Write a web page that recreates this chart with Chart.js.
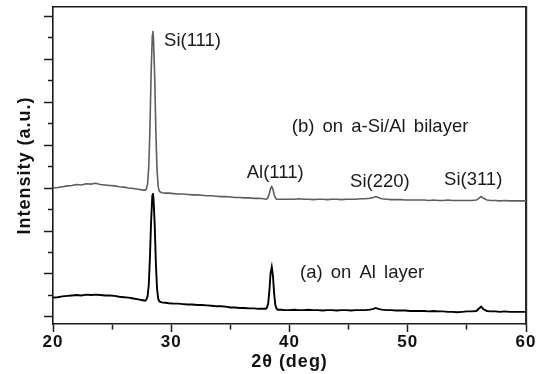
<!DOCTYPE html>
<html>
<head>
<meta charset="utf-8">
<script src="https://cdn.jsdelivr.net/npm/chart.js@4.4.1/dist/chart.umd.min.js"></script>
<style>
  html, body { margin: 0; padding: 0; background: #ffffff; }
  #wrap { width: 539px; height: 374px; }
</style>
</head>
<body>
<div id="wrap"><canvas id="c" width="539" height="374"></canvas></div>
<script>
// 2θ positions (deg)
const twoTheta = [
  20.0, 20.4, 20.8, 21.2, 21.6, 22.0, 22.4, 22.8, 23.2, 23.6, 24.0, 24.4, 24.8, 25.2, 25.6, 26.0, 26.4, 26.8, 27.2, 27.6,
  27.8, 27.9, 28.0, 28.1, 28.2, 28.3, 28.4, 28.45, 28.5, 28.6, 28.7, 28.8, 28.9, 29.0, 29.2, 29.5,
  29.8, 30.2, 30.6, 31.0, 31.4, 31.8, 32.2, 32.6, 33.0, 33.4, 33.8, 34.2, 34.6, 35.0, 35.4, 35.8, 36.2, 36.6, 37.0, 37.4, 37.8,
  38.0, 38.1, 38.2, 38.3, 38.4, 38.5, 38.6, 38.7, 38.8, 38.9, 39.0, 39.3, 39.6,
  40.0, 40.4, 40.8, 41.2, 41.6, 42.0, 42.4, 42.8, 43.2, 43.6, 44.0, 44.4, 44.8, 45.2, 45.6, 46.0, 46.4, 46.8,
  47.1, 47.3, 47.5,
  47.8, 48.2, 48.6, 49.0, 49.4, 49.8, 50.2, 50.6, 51.0, 51.4, 51.8, 52.2, 52.6, 53.0, 53.4, 53.8, 54.2, 54.6, 55.0, 55.4, 55.8,
  56.0, 56.2, 56.4, 56.7,
  57.0, 57.4, 57.8, 58.2, 58.6, 59.0, 59.4, 59.8,
  60.0
];
// (a) on Al layer (a.u.)
const intensityA = [
  0.45, 0.46, 0.48, 0.49, 0.50, 0.51, 0.50, 0.52, 0.51, 0.52, 0.51, 0.50, 0.50, 0.49, 0.47, 0.46, 0.45, 0.43, 0.41, 0.39,
  0.38, 0.41, 0.48, 0.75, 1.40, 2.25, 2.82, 2.88, 2.75, 2.15, 1.25, 0.65, 0.42, 0.36, 0.34, 0.33,
  0.32, 0.31, 0.31, 0.30, 0.29, 0.29, 0.28, 0.28, 0.27, 0.26, 0.25, 0.25, 0.24, 0.22, 0.22, 0.21, 0.21, 0.20, 0.20, 0.19, 0.19,
  0.19, 0.22, 0.32, 0.62, 1.02, 1.16, 0.96, 0.55, 0.28, 0.20, 0.17, 0.17, 0.16,
  0.16, 0.17, 0.16, 0.16, 0.17, 0.16, 0.16, 0.15, 0.16, 0.16, 0.15, 0.16, 0.16, 0.15, 0.16, 0.16, 0.16, 0.17,
  0.19, 0.21, 0.19,
  0.17, 0.16, 0.16, 0.15, 0.15, 0.15, 0.14, 0.14, 0.14, 0.14, 0.13, 0.14, 0.13, 0.13, 0.12, 0.12, 0.11, 0.12, 0.13, 0.13, 0.14,
  0.19, 0.24, 0.18, 0.14,
  0.13, 0.13, 0.12, 0.13, 0.12, 0.12, 0.12, 0.12,
  0.12
];
// (b) on a-Si/Al bilayer (a.u.)
const intensityB = [
  3.00, 3.01, 3.03, 3.05, 3.06, 3.08, 3.07, 3.10, 3.09, 3.11, 3.08, 3.07, 3.06, 3.05, 3.03, 3.02, 3.00, 2.99, 2.97, 2.95,
  2.95, 2.98, 3.10, 3.50, 4.40, 5.70, 6.55, 6.65, 6.45, 5.60, 4.30, 3.40, 3.02, 2.92, 2.89, 2.88,
  2.88, 2.87, 2.86, 2.86, 2.85, 2.84, 2.84, 2.83, 2.82, 2.82, 2.81, 2.80, 2.80, 2.79, 2.78, 2.78, 2.77, 2.77, 2.76, 2.76, 2.75,
  2.74, 2.75, 2.79, 2.88, 2.99, 3.03, 2.97, 2.85, 2.77, 2.74, 2.74, 2.74, 2.74,
  2.74, 2.74, 2.75, 2.74, 2.74, 2.73, 2.74, 2.74, 2.73, 2.74, 2.74, 2.73, 2.74, 2.74, 2.74, 2.75, 2.75, 2.76,
  2.78, 2.80, 2.78,
  2.75, 2.74, 2.73, 2.73, 2.73, 2.72, 2.72, 2.72, 2.72, 2.72, 2.71, 2.72, 2.71, 2.71, 2.72, 2.71, 2.71, 2.71, 2.71, 2.71, 2.72,
  2.76, 2.80, 2.76, 2.72,
  2.71, 2.71, 2.70, 2.71, 2.70, 2.70, 2.70, 2.70,
  2.70
];
// axis tick labels
const xTickLabels = [20, 30, 40, 50, 60];
// peak labels and their anchor (data coordinates)
const annotationTexts = ['Si(111)', '(b) on a-Si/Al bilayer', 'Al(111)', 'Si(220)', 'Si(311)', '(a) on Al layer'];
const annotationX = [29.39, 40.19, 36.38, 45.12, 53.07, 40.89];
const annotationY = [6.42, 4.43, 3.35, 3.15, 3.19, 1.02];

const X_MIN = 20, X_MAX = 60, Y_MIN = -0.163, Y_MAX = 7.21;

const toPoints = (ys) => twoTheta.map((x, i) => ({ x: x, y: ys[i] }));

const spacingPlugin = {
  id: 'spacing',
  beforeDraw(chart) { chart.ctx.letterSpacing = '1px'; },
  afterDraw(chart) {
    const ctx = chart.ctx;
    const xs = chart.scales.x, ys = chart.scales.y;
    ctx.save();
    ctx.letterSpacing = '0px';
    ctx.wordSpacing = '3px';
    ctx.font = '18.5px "Liberation Sans", Arial, sans-serif';
    ctx.fillStyle = '#1a1a1a';
    ctx.textAlign = 'left';
    ctx.textBaseline = 'middle';
    annotationTexts.forEach((t, i) => {
      ctx.fillText(t, xs.getPixelForValue(annotationX[i]), ys.getPixelForValue(annotationY[i]));
    });
    ctx.restore();
    ctx.letterSpacing = '0px';
  }
};

const axisColor = '#1c1c1c';

new Chart(document.getElementById('c'), {
  type: 'line',
  data: {
    datasets: [
      { label: '(b) on a-Si/Al bilayer', data: toPoints(intensityB), borderColor: '#5e5e5e', borderWidth: 1.6, pointRadius: 0, tension: 0, xAxisID: 'x', yAxisID: 'y' },
      { label: '(a) on Al layer', data: toPoints(intensityA), borderColor: '#000000', borderWidth: 1.9, pointRadius: 0, tension: 0, xAxisID: 'x', yAxisID: 'y' }
    ]
  },
  options: {
    responsive: false,
    animation: false,
    devicePixelRatio: 1,
    layout: { padding: { top: 7, right: 13, left: 0, bottom: 0 } },
    plugins: { legend: { display: false }, tooltip: { enabled: false } },
    scales: {
      x: {
        type: 'linear', position: 'bottom', min: X_MIN, max: X_MAX,
        afterFit: (s) => { s.height = 50; },
        border: { display: true, color: axisColor, width: 1.6 },
        grid: {
          drawOnChartArea: false, drawTicks: true, tickLength: 8, tickWidth: 1.5, tickColor: axisColor,
          tickBorderDash: (c) => (c.tick && xTickLabels.includes(c.tick.value)) ? [] : [5, 100]
        },
        ticks: {
          stepSize: 5, autoSkip: false, maxRotation: 0, padding: 0, color: '#111',
          font: { family: '"Liberation Sans", Arial, sans-serif', size: 17, weight: 'bold' },
          callback: (v) => xTickLabels.includes(v) ? String(v) : ''
        },
        title: {
          display: true, text: '2θ (deg)', color: '#111',
          font: { family: '"Liberation Sans", Arial, sans-serif', size: 18, weight: 'bold' },
          padding: { top: 0, bottom: 1 }
        }
      },
      y: {
        type: 'linear', position: 'left', min: Y_MIN, max: Y_MAX,
        afterFit: (s) => { s.width = 53; },
        border: { display: true, color: axisColor, width: 1.6 },
        grid: {
          drawOnChartArea: false, drawTicks: true, tickLength: 9, tickWidth: 1.5, tickColor: axisColor,
          tickBorderDash: (c) => (c.tick && Number.isInteger(c.tick.value)) ? [] : [0, 4, 6, 100]
        },
        ticks: { stepSize: 0.5, includeBounds: false, display: false },
        title: {
          display: true, text: 'Intensity (a.u.)', color: '#111',
          font: { family: '"Liberation Sans", Arial, sans-serif', size: 18, weight: 'bold' },
          padding: { top: 14, bottom: 0 }
        }
      },
      x2: {
        type: 'linear', position: 'top', min: X_MIN, max: X_MAX,
        afterFit: (s) => { s.height = 0; },
        border: { display: true, color: axisColor, width: 1.6 },
        grid: { drawOnChartArea: false, drawTicks: false },
        ticks: { display: false }
      },
      y2: {
        type: 'linear', position: 'right', min: Y_MIN, max: Y_MAX,
        afterFit: (s) => { s.width = 0; },
        border: { display: true, color: '#2a2a2a', width: 2.2 },
        grid: { drawOnChartArea: false, drawTicks: false },
        ticks: { display: false }
      }
    }
  },
  plugins: [spacingPlugin]
});
</script>
</body>
</html>
